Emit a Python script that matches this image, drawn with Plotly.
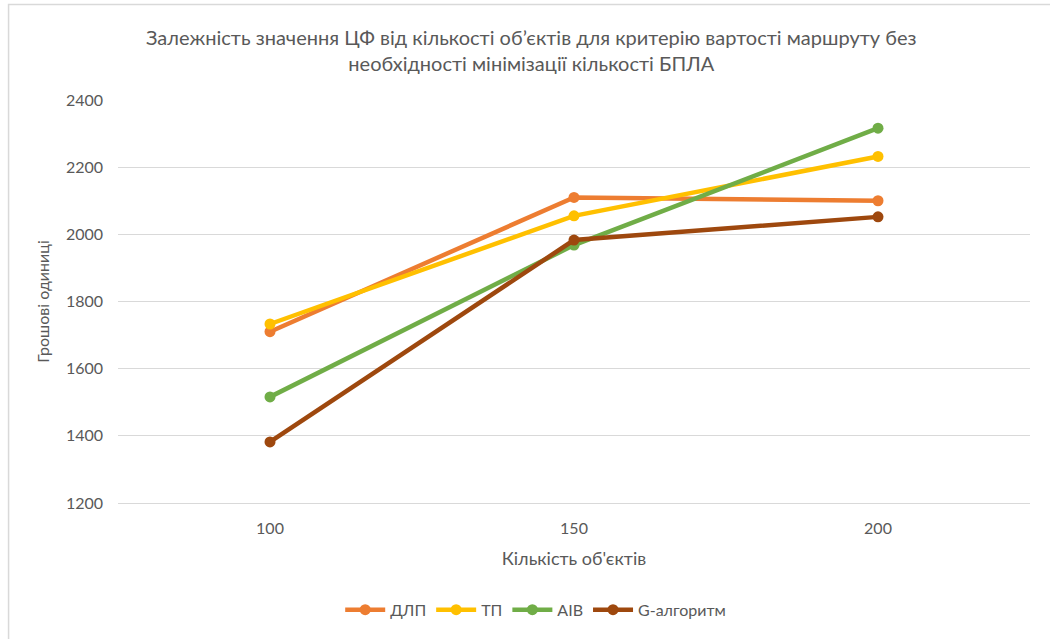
import plotly.graph_objects as go

# Кількість об'єктів (категорії осі X)
objects = ["100", "150", "200"]

# Значення ЦФ для кожного алгоритму
dlp = [1710, 2110, 2100]
tp = [1733, 2055, 2232]
aib = [1516, 1968, 2316]
g_alg = [1382, 1983, 2052]

series = [
    ("ДЛП", dlp, "#ED7D31"),
    ("ТП", tp, "#FFC000"),
    ("AIB", aib, "#70AD47"),
    ("G-алгоритм", g_alg, "#9E480E"),
]

y_ticks = [1200, 1400, 1600, 1800, 2000, 2200, 2400]

FONT = "Lato"
TEXT = "#595959"

TITLE = ("Залежність значення ЦФ від кількості об’єктів для критерію вартості маршруту без"
         "<br>необхідності мінімізації кількості БПЛА")

fig = go.Figure()
for name, vals, color in series:
    fig.add_trace(go.Scatter(
        x=objects, y=vals, name=name, mode="lines+markers",
        line=dict(color=color, width=4.5),
        marker=dict(color=color, size=11),
    ))

fig.update_layout(
    width=1050, height=639,
    paper_bgcolor="white", plot_bgcolor="white",
    margin=dict(l=118, r=20, t=100, b=132),
    font=dict(family=FONT, color=TEXT, size=16),
    xaxis=dict(
        type="category", range=[-0.5, 2.5],
        showgrid=False, zeroline=False,
        showline=True, linecolor="#D9D9D9", linewidth=1,
        ticks="", tickfont=dict(size=16, color=TEXT), ticklabelstandoff=11,
        title=dict(text="Кількість об'єктів", font=dict(size=18, color=TEXT), standoff=16),
    ),
    yaxis=dict(
        range=[1200, 2400], tickvals=y_ticks,
        showgrid=True, gridcolor="#D9D9D9", gridwidth=1,
        zeroline=False, showline=False,
        ticks="", tickfont=dict(size=16, color=TEXT), ticklabelstandoff=14,
        title=dict(text="Грошові одиниці", font=dict(size=16, color=TEXT), standoff=12),
    ),
    legend=dict(
        orientation="h", x=0.458, xanchor="center", y=-0.265, yanchor="middle",
        font=dict(size=16, color=TEXT), itemwidth=40,
    ),
    annotations=[dict(
        text=TITLE, xref="paper", yref="paper", x=0.453, y=1.124,
        xanchor="center", yanchor="middle", showarrow=False, align="center",
        font=dict(family=FONT, size=20, color=TEXT),
    )],
    shapes=[dict(
        type="rect", xref="paper", yref="paper",
        x0=-0.120, x1=1.1, y0=-0.5, y1=1.237,
        line=dict(color="#D9D9D9", width=1.5), fillcolor="rgba(0,0,0,0)",
        layer="below",
    )],
)

fig.write_html("out.html")
